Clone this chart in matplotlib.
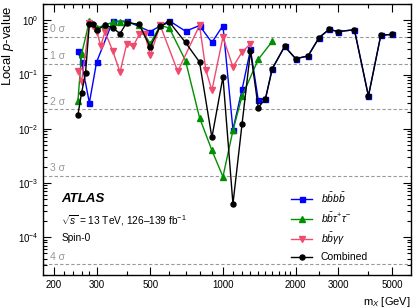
import matplotlib
matplotlib.use("Agg")
import matplotlib.pyplot as plt
import matplotlib.ticker as ticker
import matplotlib.transforms as transforms

plt.rcParams["font.family"] = ["Liberation Sans", "DejaVu Sans"]
plt.rcParams["mathtext.fontset"] = "custom"
plt.rcParams["mathtext.rm"] = "Liberation Sans"
plt.rcParams["mathtext.it"] = "Liberation Sans:italic"
plt.rcParams["mathtext.bf"] = "Liberation Sans:bold"

########  data  ########

mass_4b = [251, 260, 280, 300, 350, 400, 500, 600, 700, 800, 900, 1000, 1100,
           1200, 1300, 1400, 1500, 1600, 1800, 2000, 2250, 2500, 2750, 3000,
           3500, 4000, 4500, 5000]
p_4b = [0.27, 0.17, 0.030, 0.17, 0.96, 0.97, 0.62, 0.98, 0.63, 0.80, 0.39,
        0.80, 0.0096, 0.053, 0.29, 0.034, 0.036, 0.128, 0.33, 0.196, 0.22,
        0.48, 0.68, 0.62, 0.67, 0.040, 0.53, 0.55]

mass_tt = [251, 260, 280, 300, 325, 350, 375, 400, 450, 500, 550, 600, 700,
           800, 900, 1000, 1100, 1200, 1400, 1600]
p_tt = [0.032, 0.24, 0.96, 0.72, 0.82, 0.92, 0.95, 0.92, 0.83, 0.37, 0.81,
        0.72, 0.18, 0.016, 0.004, 0.0013, 0.0093, 0.040, 0.19, 0.41]

mass_yy = [251, 260, 280, 290, 300, 312.5, 325, 350, 375, 400, 425, 450, 475,
           500, 550, 650, 800, 850, 900, 1000, 1100, 1200, 1300]
p_yy = [0.116, 0.074, 0.88, 0.80, 0.62, 0.34, 0.62, 0.27, 0.111, 0.37, 0.33,
        0.55, 0.56, 0.226, 0.81, 0.114, 0.81, 0.12, 0.051, 0.49, 0.138, 0.26,
        0.37]

mass_comb = [251, 260, 270, 280, 290, 300, 325, 350, 375, 400, 450, 500, 550,
             600, 700, 800, 900, 1000, 1100, 1200, 1300, 1400, 1500, 1600,
             1800, 2000, 2250, 2500, 2750, 3000, 3500, 4000, 4500, 5000]
p_comb = [0.0179, 0.046, 0.107, 0.87, 0.87, 0.65, 0.82, 0.72, 0.57, 0.91,
          0.84, 0.32, 0.78, 0.93, 0.39, 0.17, 0.0069, 0.09, 0.00041, 0.0124,
          0.27, 0.0245, 0.036, 0.128, 0.33, 0.196, 0.22, 0.48, 0.68, 0.62,
          0.67, 0.040, 0.53, 0.55]

sigma_names = ["0 σ", "1 σ", "2 σ", "3 σ", "4 σ"]
sigma_p = [0.5, 0.158655, 0.02275, 0.0013499, 3.167e-5]

x_major = [200, 300, 500, 1000, 2000, 3000, 5000]
x_minor = [220, 240, 260, 280, 400, 600, 700, 800, 900, 1100, 1200, 1300,
           1400, 1500, 1600, 1700, 1800, 1900, 2500, 4000]

########  plot  ########

fig = plt.figure(figsize=(4.15, 3.08), dpi=100)
ax = fig.add_axes([0.1036, 0.107, 0.8867, 0.880])

trans = transforms.blended_transform_factory(ax.transAxes, ax.transData)
for name, p in zip(sigma_names, sigma_p):
    ax.axhline(p, color="#999999", lw=0.8, ls=(0, (3, 2)), zorder=1)
    ax.text(0.02, p * 1.12, name, transform=trans, color="#999999",
            fontsize=7.5, ha="left", va="bottom")

ax.plot(mass_4b, p_4b, color="#0000ff", marker="s", ms=3.6, lw=1.0,
        label=r"$b\bar{b}b\bar{b}$", zorder=3)
ax.plot(mass_tt, p_tt, color="#008f00", marker="^", ms=3.8, lw=1.0,
        label=r"$b\bar{b}\tau^{+}\tau^{-}$", zorder=3)
ax.plot(mass_yy, p_yy, color="#f04a6e", marker="v", ms=3.8, lw=1.0,
        label=r"$b\bar{b}\gamma\gamma$", zorder=3)
ax.plot(mass_comb, p_comb, color="black", marker="o", ms=3.6, lw=1.0,
        label="Combined", zorder=4)

ax.set_xscale("log")
ax.set_yscale("log")
ax.set_xlim(180, 6000)
ax.set_ylim(2e-5, 2)

ax.xaxis.set_major_locator(ticker.FixedLocator(x_major))
ax.xaxis.set_major_formatter(ticker.FixedFormatter([str(v) for v in x_major]))
ax.xaxis.set_minor_locator(ticker.FixedLocator(x_minor))
ax.xaxis.set_minor_formatter(ticker.NullFormatter())
ax.yaxis.set_major_locator(ticker.LogLocator(base=10, numticks=10))
ax.yaxis.set_minor_locator(ticker.LogLocator(base=10, subs=range(2, 10), numticks=20))
ax.yaxis.set_minor_formatter(ticker.NullFormatter())

ax.tick_params(which="both", direction="in", top=True, right=True,
               labelsize=7, width=0.8)
ax.tick_params(which="major", length=6)
ax.tick_params(which="minor", length=3)
for s in ax.spines.values():
    s.set_linewidth(1.0)

ax.set_xlabel(r"m$_{X}$ [GeV]", fontsize=8, loc="right")
ax.set_ylabel(r"Local $p$-value", fontsize=9.5, loc="top")
ax.yaxis.set_label_coords(-0.072, 0.995)

ax.text(0.05, 0.28, "ATLAS", transform=ax.transAxes, fontsize=9.5,
        fontweight="bold", fontstyle="italic", va="center")
ax.text(0.05, 0.20, r"$\sqrt{s}$ = 13 TeV, 126–139 fb$^{-1}$",
        transform=ax.transAxes, fontsize=7.3, va="center")
ax.text(0.05, 0.135, "Spin-0", transform=ax.transAxes, fontsize=7.3,
        va="center")

ax.legend(loc="upper left", bbox_to_anchor=(0.675, 0.31), frameon=False,
          fontsize=7.5, handlelength=2.0, handletextpad=0.8,
          labelspacing=0.55, borderpad=0, borderaxespad=0)

plt.savefig("out.png", dpi=100)
plt.close()
